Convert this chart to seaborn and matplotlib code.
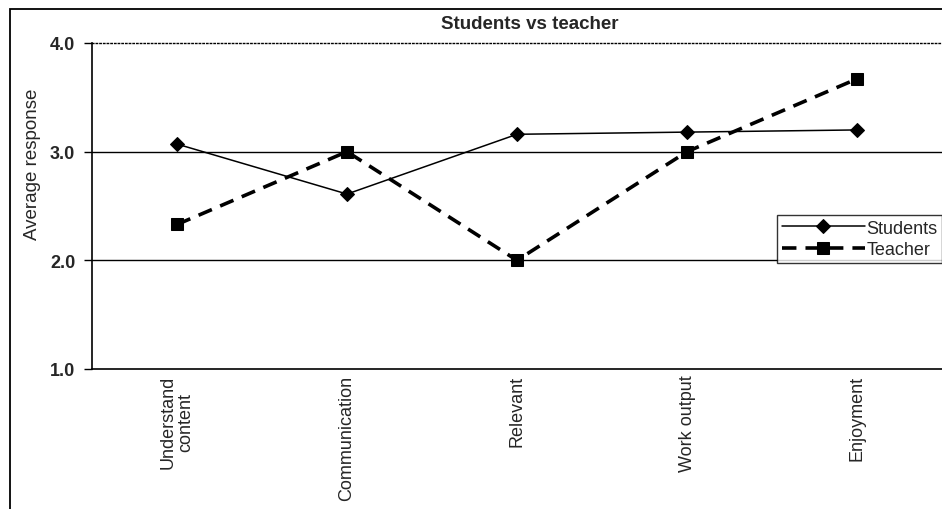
import pandas as pd
import seaborn as sns
import matplotlib.pyplot as plt
from matplotlib.patches import Rectangle

# dados
categories = ['Understand\ncontent', 'Communication', 'Relevant', 'Work output', 'Enjoyment']
students = [3.07, 2.61, 3.16, 3.18, 3.20]
teacher = [2.33, 3.00, 2.00, 3.00, 3.67]
y_ticks = [1.0, 2.0, 3.0, 4.0]

df = pd.DataFrame({
    'category': categories * 2,
    'value': students + teacher,
    'group': ['Students'] * 5 + ['Teacher'] * 5,
})

sns.set_style('white')
plt.rcParams['font.family'] = ['Liberation Sans', 'DejaVu Sans']

fig = plt.figure(figsize=(9.42, 5.10), dpi=100)
ax = fig.add_axes([92 / 942, 1 - 370 / 510, 1 - 92 / 942, (370 - 44) / 510])

# moldura externa do grafico
fig.patches.append(Rectangle((10 / 942, -0.1), 1.2, 1 - 10 / 510 + 0.1,
                             transform=fig.transFigure, fill=False,
                             edgecolor='black', linewidth=1.3))

x_pos = {c: i for i, c in enumerate(categories)}
df['x'] = df['category'].map(x_pos)

# linhas de grade
for y in y_ticks[1:-1]:
    ax.axhline(y, color='black', linewidth=1.0, zorder=1)

sns.lineplot(data=df[df.group == 'Students'], x='x', y='value', ax=ax,
             color='black', linewidth=1.1, marker='D', markersize=7,
             markeredgecolor='black', label='Students', zorder=3)
sns.lineplot(data=df[df.group == 'Teacher'], x='x', y='value', ax=ax,
             color='black', linewidth=2.6, linestyle=(0, (4, 2.5)), marker='s',
             markersize=8, markeredgecolor='black', label='Teacher', zorder=3)

ax.set_xlim(-0.5, 4.5)
ax.set_ylim(1.0, 4.0)
ax.set_yticks(y_ticks)
ax.set_yticklabels([f'{v:.1f}' for v in y_ticks], fontsize=13, fontweight='bold')
ax.set_xticks(range(len(categories)))
ax.set_xticklabels(categories, rotation=90, fontsize=13, va='top', linespacing=1.1)
ax.set_xticks([i - 0.5 for i in range(len(categories) + 1)], minor=True)
ax.tick_params(axis='x', which='major', length=0, pad=4)
ax.tick_params(axis='x', which='minor', length=7, width=1, color='black', direction='out')
ax.tick_params(axis='y', length=6, width=1, color='black', direction='out', left=True, pad=6)

ax.set_xlabel('')
ax.set_ylabel('Average response', fontsize=13.5)
ax.yaxis.set_label_coords(-0.06, 0.63)
ax.set_title('Students vs teacher', fontsize=13.5, fontweight='bold', pad=11, x=0.515)

for side in ['left', 'bottom']:
    ax.spines[side].set_color('black')
    ax.spines[side].set_linewidth(1.2)
ax.spines['top'].set_linestyle(':')
ax.spines['top'].set_color('black')
ax.spines['top'].set_linewidth(1.0)
ax.spines['right'].set_visible(False)

leg = ax.legend(loc='upper left', fontsize=13,
                frameon=True, fancybox=False, edgecolor='black', borderpad=0.25,
                handlelength=4.6, handletextpad=0.1, labelspacing=0.25, borderaxespad=0)
leg.set_bbox_to_anchor(((777 - 92) / 850, 1 - (216 - 44) / 326), transform=ax.transAxes)
leg.get_frame().set_linewidth(1.0)

fig.savefig('out.png', dpi=100, facecolor='white')
